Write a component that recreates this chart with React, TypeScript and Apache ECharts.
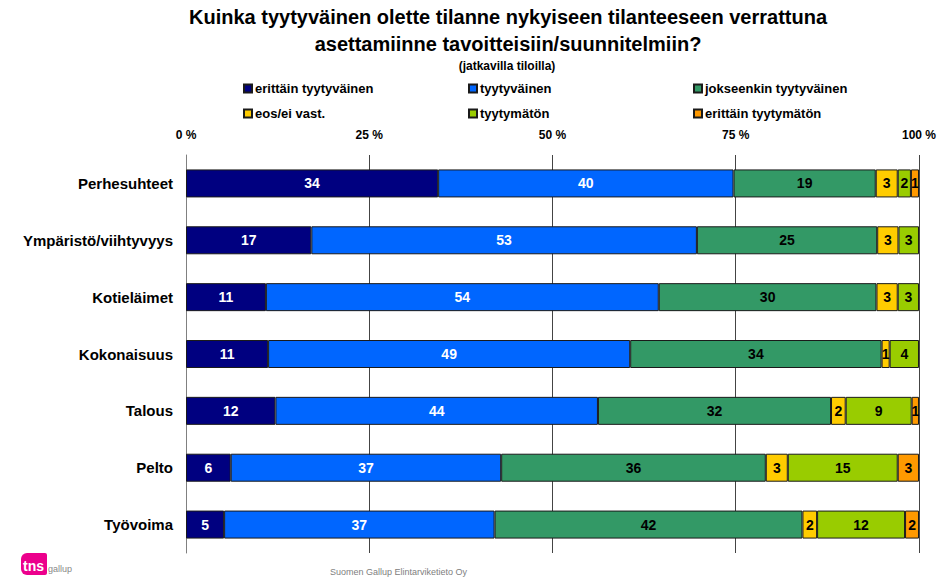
import React, { useEffect, useRef } from "react";
import * as echarts from "echarts";

const categories = [
  "Perhesuhteet",
  "Ympäristö/viihtyvyys",
  "Kotieläimet",
  "Kokonaisuus",
  "Talous",
  "Pelto",
  "Työvoima",
];

const seriesNames = [
  "erittäin tyytyväinen",
  "tyytyväinen",
  "jokseenkin tyytyväinen",
  "eos/ei vast.",
  "tyytymätön",
  "erittäin tyytymätön",
];

const erittainTyytyvainen = [34.4, 17.1, 10.9, 11.2, 12.2, 6.1, 5.2];
const tyytyvainen = [40.3, 52.6, 53.6, 49.4, 44.0, 36.9, 36.9];
const jokseenkinTyytyvainen = [19.4, 24.6, 29.7, 34.3, 31.8, 36.1, 42.0];
const eosEiVast = [3.0, 2.9, 2.9, 1.1, 2.0, 3.0, 2.0];
const tyytymaton = [1.8, 2.8, 2.9, 4.0, 9.0, 15.0, 12.0];
const erittainTyytymaton = [1.1, null, null, null, 1.0, 2.9, 1.9];

const seriesValues = [
  erittainTyytyvainen,
  tyytyvainen,
  jokseenkinTyytyvainen,
  eosEiVast,
  tyytymaton,
  erittainTyytymaton,
];

const colors = ["#000080", "#0066FF", "#339966", "#FFCC00", "#99CC00", "#FF9900"];
const labelColors = ["#ffffff", "#ffffff", "#000000", "#000000", "#000000", "#000000"];

const xTicks = [0, 25, 50, 75, 100];

const FONT = "'Liberation Sans', Arial, sans-serif";

export default function App() {
  const ref = useRef<HTMLDivElement>(null);

  useEffect(() => {
    if (!ref.current) return;
    const chart = echarts.init(ref.current, null, { renderer: "svg" });

    const legendPos = [
      [243, 82],
      [468, 82],
      [693, 82],
      [243, 107],
      [468, 107],
      [693, 107],
    ];

    const option: any = {
      animation: false,
      backgroundColor: "#ffffff",
      textStyle: { fontFamily: FONT },
      legend: seriesNames.map((n, i) => ({
        data: [n],
        left: legendPos[i][0],
        top: legendPos[i][1],
        padding: 0,
        itemWidth: 8,
        itemHeight: 8,
        itemGap: 0,
        icon: "rect",
        selectedMode: false,
        textStyle: {
          fontFamily: FONT,
          fontSize: 13,
          fontWeight: "bold",
          color: "#000",
          padding: [0, 0, 0, -2],
        },
      })),
      grid: {
        left: 186,
        right: 20,
        top: 155,
        bottom: 24,
        containLabel: false,
      },
      xAxis: {
        type: "value",
        position: "top",
        min: 0,
        max: 100,
        interval: 25,
        axisLine: { show: false },
        axisTick: { show: false },
        axisLabel: {
          margin: 14,
          fontFamily: FONT,
          fontSize: 12,
          fontWeight: "bold",
          color: "#000",
          formatter: (v: number) => (xTicks.includes(v) ? `${v} %` : ""),
        },
        splitLine: { show: true, lineStyle: { color: "#444", width: 1 } },
      },
      yAxis: {
        type: "category",
        inverse: true,
        data: categories,
        axisTick: { show: false },
        axisLine: { show: true, lineStyle: { color: "#808080", width: 1 } },
        axisLabel: {
          margin: 13,
          fontFamily: FONT,
          fontSize: 15,
          fontWeight: "bold",
          color: "#000",
        },
      },
      series: seriesNames.map((n, i) => ({
        name: n,
        type: "bar",
        stack: "total",
        barWidth: 28,
        data: seriesValues[i],
        itemStyle: { color: colors[i], borderColor: "#1a1a1a", borderWidth: 1 },
        label: {
          show: true,
          position: "inside",
          fontFamily: FONT,
          fontSize: 14,
          fontWeight: "bold",
          color: labelColors[i],
          formatter: (p: any) => String(Math.round(p.value)),
        },
      })),
      graphic: [
        {
          type: "text",
          x: 508,
          y: 7,
          style: {
            text: "Kuinka tyytyväinen olette tilanne nykyiseen tilanteeseen verrattuna",
            font: `bold 20px ${FONT}`,
            fill: "#000",
            textAlign: "center",
          },
        },
        {
          type: "text",
          x: 508,
          y: 34,
          style: {
            text: "asettamiinne tavoitteisiin/suunnitelmiin?",
            font: `bold 20px ${FONT}`,
            fill: "#000",
            textAlign: "center",
          },
        },
        {
          type: "text",
          x: 507,
          y: 60,
          style: {
            text: "(jatkavilla tiloilla)",
            font: `bold 12px ${FONT}`,
            fill: "#000",
            textAlign: "center",
          },
        },
        {
          type: "rect",
          shape: { x: 21, y: 553, width: 26, height: 22, r: [6, 2, 2, 6] },
          style: { fill: "#EC008C" },
        },
        {
          type: "text",
          x: 23,
          y: 559,
          style: {
            text: "tns",
            font: `bold 14px ${FONT}`,
            fill: "#ffffff",
          },
        },
        {
          type: "text",
          x: 48,
          y: 564,
          style: {
            text: "gallup",
            font: `9px ${FONT}`,
            fill: "#888888",
          },
        },
        {
          type: "text",
          x: 330,
          y: 567,
          style: {
            text: "Suomen Gallup Elintarviketieto Oy",
            font: `9px ${FONT}`,
            fill: "#808080",
          },
        },
      ],
    };

    chart.setOption(option);
    return () => chart.dispose();
  }, []);

  return (
    <div
      ref={ref}
      style={{ position: "absolute", left: 0, top: 0, width: 939, height: 577 }}
    />
  );
}
